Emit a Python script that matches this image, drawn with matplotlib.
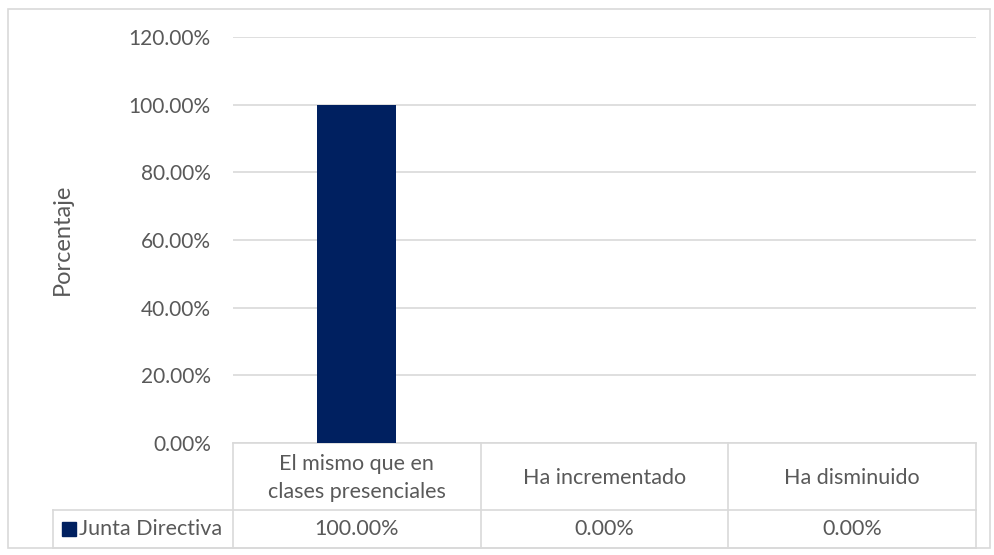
import matplotlib.pyplot as plt
from matplotlib.patches import Rectangle

categories = ['El mismo que en\nclases presenciales', 'Ha incrementado', 'Ha disminuido']
series_name = 'Junta Directiva'
values = [100.0, 0.0, 0.0]
yticks = [0, 20, 40, 60, 80, 100, 120]

txt = '#595959'
grid = '#D9D9D9'
navy = '#002060'
plt.rcParams['font.family'] = ['Lato', 'DejaVu Sans']

W, H = 994, 555
fig = plt.figure(figsize=(W / 100, H / 100), dpi=100)
x0, x1, y0, y1 = 233, 976, 37, 443
ax = fig.add_axes([x0 / W, 1 - y1 / H, (x1 - x0) / W, (y1 - y0) / H])

ax.bar(range(len(values)), values, width=0.32, color=navy, zorder=3)
ax.set_xlim(-0.5, len(values) - 0.5)
ax.set_ylim(0, 120)
ax.set_yticks(yticks)
ax.set_yticklabels([f'{v:.2f}%' for v in yticks], color=txt, fontsize=15)
ax.set_xticks([])
ax.tick_params(axis='y', length=0, pad=16)
ax.yaxis.grid(True, color=grid, linewidth=1.2)
for s in ax.spines.values():
    s.set_visible(False)

fig.text(62 / W, 1 - 239 / H, 'Porcentaje', rotation=90, va='center', ha='center',
         color=txt, fontsize=17)

# data table below the axes
def fx(px):
    return (px - x0) / (x1 - x0)

def fy(py):
    return (y1 - py) / (y1 - y0)

lw = 1.2
kw = dict(transform=ax.transAxes, color=grid, linewidth=lw, clip_on=False)
ax.plot([0, 1], [0, 0], **kw)
ax.plot([fx(53), 1], [fy(510), fy(510)], **kw)
ax.plot([fx(53), 1], [fy(548), fy(548)], **kw)
ax.plot([fx(53), fx(53)], [fy(510), fy(548)], **kw)
n = len(categories)
for i in range(n + 1):
    ax.plot([i / n, i / n], [0, fy(548)], **kw)

for i, (c, v) in enumerate(zip(categories, values)):
    xc = (i + 0.5) / n
    ax.text(xc, fy(478), c, transform=ax.transAxes, ha='center', va='center',
            color=txt, fontsize=15.5, linespacing=1.5)
    ax.text(xc, fy(529), f'{v:.2f}%', transform=ax.transAxes, ha='center',
            va='center', color=txt, fontsize=15.5)

ax.add_patch(Rectangle((fx(62), fy(536)), fx(76) - fx(62), fy(522) - fy(536),
                       transform=ax.transAxes, color=navy, clip_on=False))
ax.text(fx(79), fy(529), series_name, transform=ax.transAxes, ha='left',
        va='center', color=txt, fontsize=15.5)

fig.patches.append(Rectangle((8 / W, 1 - 548 / H), 982 / W, 539 / H,
                             transform=fig.transFigure, fill=False,
                             edgecolor=grid, linewidth=1.2))

fig.savefig('out.png', dpi=100, facecolor='white')
